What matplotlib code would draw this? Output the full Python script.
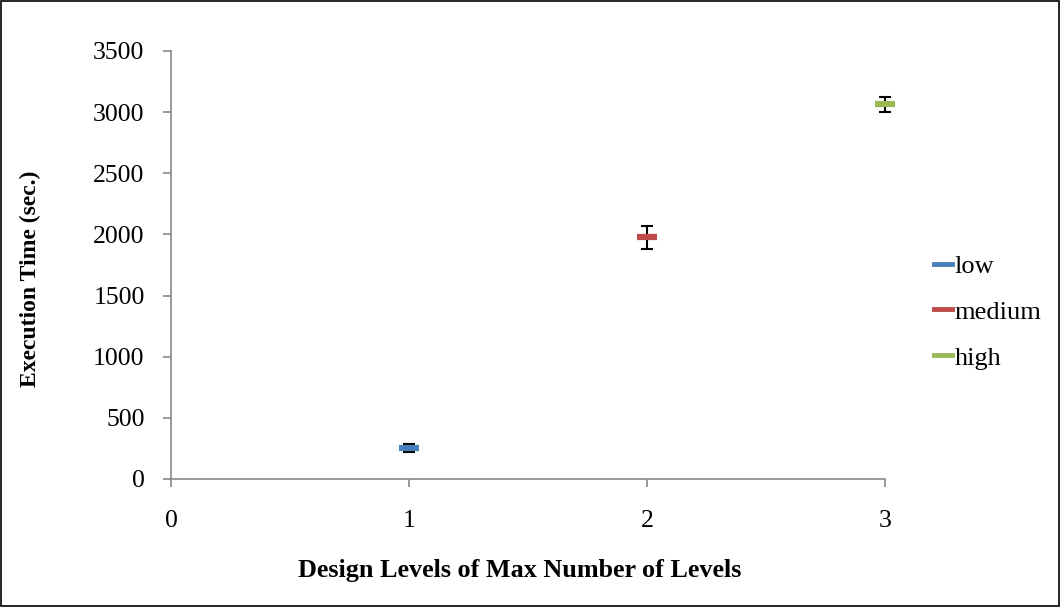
import matplotlib.pyplot as plt
from matplotlib.patches import Rectangle

plt.rcParams['font.family'] = ['Liberation Serif', 'DejaVu Serif']
plt.rcParams['font.size'] = 18

levels = [1, 2, 3]
labels = ['low', 'medium', 'high']
times = [255, 1975, 3065]
errors = [33, 97, 60]
colors = ['#4a7ebb', '#be4b48', '#98b954']

fig = plt.figure(figsize=(10.6, 6.07), dpi=100)
fig.patches.append(Rectangle((0.001, 0.001), 0.998, 0.997, transform=fig.transFigure,
                             fill=False, edgecolor='black', linewidth=1.2))
ax = fig.add_axes([0.1613, 0.2109, 0.835 - 0.1613, 0.916 - 0.2109])

for x, y, e, c, lab in zip(levels, times, errors, colors, labels):
    ax.errorbar(x, y, yerr=e, fmt='none', ecolor='black', elinewidth=1.5,
                capsize=4.5, capthick=1.5, zorder=2, clip_on=False)
    ax.plot(x, y, marker='_', markersize=15, markeredgewidth=4.5, color=c,
            linestyle='none', label=lab, zorder=3, clip_on=False)

ax.set_xlim(0, 3)
ax.set_ylim(0, 3500)
ax.set_xticks([0, 1, 2, 3])
ax.set_yticks(range(0, 3501, 500))
for s in ['top', 'right']:
    ax.spines[s].set_visible(False)
for s in ['left', 'bottom']:
    ax.spines[s].set_color('#888888')
    ax.spines[s].set_linewidth(1.2)
ax.tick_params(axis='both', direction='out', length=6, color='#888888', width=1.2,
               labelsize=18.5)
ax.tick_params(axis='y', pad=13)
ax.tick_params(axis='x', pad=16)

ax.set_xlabel('Design Levels of Max Number of Levels', fontweight='bold', fontsize=18.8, va='center')
ax.set_ylabel('Execution Time (sec.)', fontweight='bold', fontsize=17, va='center')
ax.xaxis.set_label_coords(0.489, -0.213)
ax.yaxis.set_label_coords(-0.197, 0.467)

handles = [plt.Line2D([], [], color=c, linewidth=3.5) for c in colors]
fig.legend(handles, labels, loc='center left', bbox_to_anchor=(0.8585, 0.486),
           frameon=False, fontsize=19, handlelength=0.68, handletextpad=0.12,
           labelspacing=0.85)

fig.savefig('out.png', dpi=100)
